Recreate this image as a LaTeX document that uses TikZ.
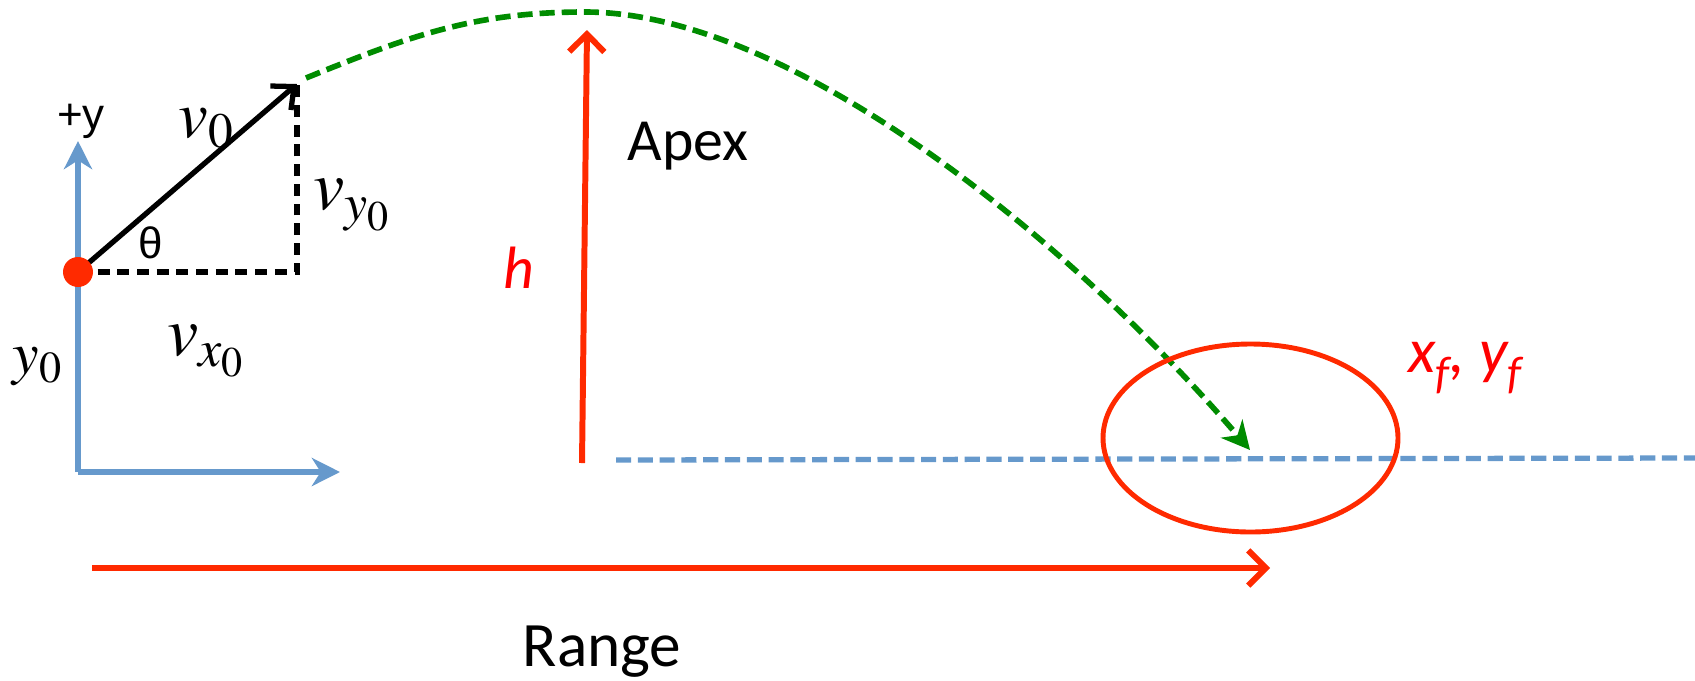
\documentclass[tikz,border=0pt]{standalone}
\usepackage{mathptmx}
\usepackage{fontspec}
\setmainfont{Carlito}
\newfontfamily\arialfont{Liberation Sans}
\usetikzlibrary{arrows.meta,shapes.geometric}
\definecolor{axisblue}{HTML}{6699CC}
\definecolor{trajgreen}{HTML}{008C00}
\definecolor{markred}{HTML}{FF2A00}
\definecolor{labelred}{HTML}{FF0000}
\tikzset{
  axisline/.style={axisblue,line width=1.7pt,-{Stealth[length=8pt,width=8pt,inset=2.5pt]}},
  vecline/.style={black,line width=1.5pt,-{Straight Barb[length=5pt,width=9pt]}},
  compline/.style={black,line width=1.5pt,dash pattern=on 3.4pt off 2.2pt},
  trajline/.style={trajgreen,line width=1.6pt,dash pattern=on 4.3pt off 2pt,-{Stealth[length=8pt,width=8pt,inset=2.5pt]}},
  redarrow/.style={markred,line width=1.7pt,-{Straight Barb[length=5pt,width=10pt]}},
  groundline/.style={axisblue,line width=1.5pt,dash pattern=on 4.3pt off 1.9pt},
  mathlbl/.style={inner sep=0pt,font=\fontsize{17}{20}\selectfont},
  biglbl/.style={inner sep=0pt,font=\fontsize{20}{24}\selectfont}
}
\begin{document}
\begin{tikzpicture}
  \useasboundingbox (0,0) rectangle (16.95,6.8);
  % Points
  \coordinate (launch) at (0.78,4.08);
  \coordinate (origin) at (0.78,2.08);
  \coordinate (ytip) at (0.78,5.39);
  \coordinate (xtip) at (3.40,2.08);
  \coordinate (vtip) at (2.97,5.96);
  \coordinate (corner) at (2.97,4.08);
  \coordinate (trajstart) at (3.06,6.02);
  \coordinate (apex) at (5.85,6.68);
  \coordinate (land) at (12.50,2.30);
  \coordinate (hbase) at (5.82,2.17);
  \coordinate (htop) at (5.87,6.50);
  \coordinate (groundstart) at (6.16,2.20);
  \coordinate (groundend) at (16.95,2.22);
  \coordinate (rangestart) at (0.92,1.12);
  \coordinate (rangeend) at (12.70,1.12);
  % Axes
  \draw[axisline] (origin) -- (ytip);
  \draw[axisline] (origin) -- (xtip);
  % Velocity components
  \draw[compline] (launch) -- (corner) -- (vtip);
  \draw[vecline] (launch) -- (vtip);
  \fill[markred] (launch) circle (0.15);
  % Trajectory and ground
  \draw[groundline] (groundstart) -- (groundend);
  \draw[trajline] (trajstart) to[out=22,in=180] (apex)
    .. controls (7.9,6.68) and (10.7,4.4) .. (land);
  \node[ellipse,draw=markred,line width=1.4pt,minimum width=2.95cm,minimum height=1.88cm,inner sep=0pt] (landzone) at (12.505,2.42) {};
  % Height and range
  \draw[redarrow] (hbase) -- (htop);
  \draw[redarrow] (rangestart) -- (rangeend);
  % Labels
  \node[inner sep=0pt,font=\arialfont\fontsize{12.5}{14}\selectfont] (ylabel) at (0.81,5.59) {+y};
  \node[inner sep=0pt,font=\fontsize{19}{22}\selectfont] (vlabel) at (2.07,5.52) {$v_0$};
  \node[inner sep=0pt,font=\arialfont\fontsize{12.5}{14}\selectfont] (thetalabel) at (1.51,4.37) {θ};
  \node[biglbl] (vylabel) at (3.53,4.75) {$v_{y_0}$};
  \node[biglbl] (vxlabel) at (2.07,3.29) {$v_{x_0}$};
  \node[mathlbl] (y0label) at (0.38,3.13) {$y_0$};
  \node[inner sep=0pt,font=\fontsize{17}{20}\selectfont] (apexlabel) at (6.88,5.34) {Apex};
  \node[inner sep=0pt,text=labelred,font=\itshape\fontsize{17}{20}\selectfont] (hlabel) at (5.19,4.12) {h};
  \node[inner sep=0pt,text=labelred,font=\itshape\fontsize{18}{22}\selectfont] (finallabel) at (14.65,3.12) {x\raisebox{-0.25em}{\fontsize{13}{13}\selectfont f}, y\raisebox{-0.25em}{\fontsize{13}{13}\selectfont f}};
  \node[inner sep=0pt,font=\fontsize{18}{22}\selectfont] (rangelabel) at (6.02,0.28) {Range};
\end{tikzpicture}
\end{document}
